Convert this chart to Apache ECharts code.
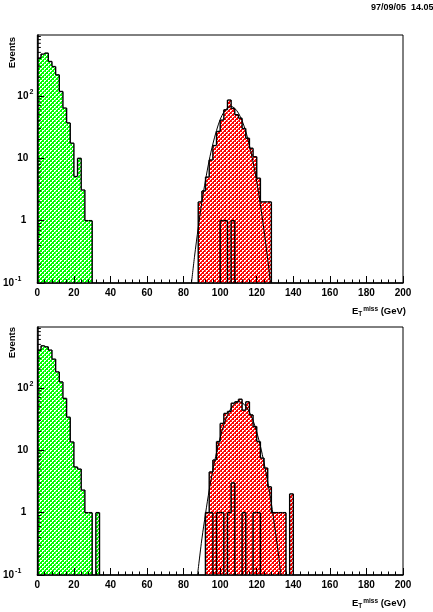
<!DOCTYPE html>
<html><head><meta charset="utf-8">
<script src="https://cdn.jsdelivr.net/npm/echarts@6/dist/echarts.min.js"></script>
<style>html,body{margin:0;padding:0;background:#fff}#c{width:433px;height:612px}</style>
</head><body><div id="c"></div>
<script>
// ---- data ----
const binWidth = 2;
const xTicks = [0, 20, 40, 60, 80, 100, 120, 140, 160, 180, 200];
const yMinorTicks = [0.2,0.3,0.4,0.5,0.6,0.7,0.8,0.9, 2,3,4,5,6,7,8,9, 20,30,40,50,60,70,80,90, 200,300,400,500,600,700,800,900];

const topGreenStart = 0;
const topGreen = [405, 469, 487, 357, 296, 218, 118, 64, 37, 17.5, 5.1, 10, 3.1, 1, 1];
const topRedStart = 88;
const topRed = [2, 3, 5, 9.4, 16, 27, 41, 60, 86, 63, 50, 44, 30, 21, 14.5, 10.6, 4.8, 2, 2, 2];
const topBkgStart = 100;
const topBkg = [1, 1, 0, 1];
const topFitX = [84.3, 86, 88, 90, 92, 94, 96, 98, 100, 102, 104, 106, 108, 110, 112, 114, 116, 118, 120, 122, 124, 126, 127.5];
const topFitY = [0.1, 0.27, 0.77, 2.0, 4.5, 9.3, 17, 28, 42, 55, 64, 68, 63, 53, 40, 27, 16, 8.7, 4.2, 1.8, 0.69, 0.24, 0.1];

const botGreenStart = 0;
const botGreen = [405, 474, 457, 405, 290, 181, 125, 68, 34, 13.6, 5.4, 5, 2.3, 1, 1, 0, 1];
const botRedStart = 92;
const botRed = [1, 4.5, 7, 13.8, 27, 39, 42, 57, 60, 66, 44, 60, 37, 24, 13.8, 7.5, 5.2, 2.6, 1, 1, 1, 1, 0, 2];
const botBkgStart = 92;
const botBkg = [1, 1, 0, 1, 1, 0, 1, 3, 0, 0, 1, 0, 0, 1, 1];
const botFitX = [87.6, 90, 92, 94, 96, 98, 100, 102, 104, 106, 108, 110, 112, 114, 116, 118, 120, 122, 124, 126, 128, 130, 132, 133.2];
const botFitY = [0.1, 0.38, 0.97, 2.3, 4.8, 9.2, 16, 25.5, 36.5, 47.6, 56, 60, 58, 51, 41, 30, 19.6, 11.7, 6.3, 3.1, 1.4, 0.55, 0.2, 0.1];

const FLOOR = 0.1;
const YMAX = 950;
const FONT = '"Liberation Sans", Arial, Helvetica, sans-serif';

function hatch(color) {
  const c = document.createElement('canvas');
  c.width = 4; c.height = 4;
  const g = c.getContext('2d');
  g.fillStyle = color; g.fillRect(0, 0, 4, 4);
  g.fillStyle = '#ffffff';
  g.fillRect(0, 0, 2, 1); g.fillRect(0, 1, 1, 1);
  g.fillRect(2, 2, 2, 1); g.fillRect(2, 3, 1, 1);
  return { type: 'pattern', image: c, repeat: 'repeat' };
}
const greenFill = hatch('#00ff00');
const redFill = hatch('#ff0000');

function histSeries(idx, start, vals, fill, z) {
  const data = vals.map((v, i) => [start + i * binWidth, start + (i + 1) * binWidth, v, i === 0 ? 0 : vals[i - 1], i === vals.length - 1 ? 1 : 0]);
  return {
    type: 'custom', xAxisIndex: idx, yAxisIndex: idx, z: z, clip: true,
    encode: { x: 0, y: 2 }, silent: true, data: data,
    renderItem(params, api) {
      const x0 = api.value(0), x1 = api.value(1), v = api.value(2), p = api.value(3), last = api.value(4);
      const lv = v > 0 ? v : FLOOR, lp = p > 0 ? p : FLOOR;
      const a = api.coord([x0, lv]), b = api.coord([x1, FLOOR]), pl = api.coord([x0, lp]);
      const ls = { stroke: '#000', lineWidth: 1.4 };
      const ch = [];
      if (v > 0) ch.push({ type: 'rect', shape: { x: a[0], y: a[1], width: b[0] - a[0], height: b[1] - a[1] }, style: { fill: fill } });
      ch.push({ type: 'line', shape: { x1: a[0], y1: pl[1], x2: a[0], y2: a[1] }, style: ls });
      if (v > 0) ch.push({ type: 'line', shape: { x1: a[0], y1: a[1], x2: b[0], y2: a[1] }, style: ls });
      if (last) ch.push({ type: 'line', shape: { x1: b[0], y1: a[1], x2: b[0], y2: b[1] }, style: ls });
      return { type: 'group', children: ch };
    }
  };
}
function fitSeries(idx, xs, ys) {
  return {
    type: 'line', xAxisIndex: idx, yAxisIndex: idx, z: 6, smooth: 0.3, showSymbol: false, silent: true,
    clip: true, lineStyle: { color: '#000', width: 1 }, data: xs.map((x, i) => [x, ys[i]])
  };
}
function minorSeries(idx) {
  return {
    type: 'custom', xAxisIndex: idx, yAxisIndex: idx, z: 8, silent: true, encode: { x: 0, y: 1 },
    data: yMinorTicks.map(v => [0, v]),
    renderItem(params, api) {
      const pt = api.coord([api.value(0), api.value(1)]);
      return { type: 'line', shape: { x1: pt[0], y1: pt[1], x2: pt[0] + 3.5, y2: pt[1] }, style: { stroke: '#000', lineWidth: 1 } };
    }
  };
}

const yRich = {
  b: { fontFamily: FONT, fontWeight: 'bold', fontSize: 10, color: '#000' },
  s: { fontFamily: FONT, fontWeight: 'bold', fontSize: 7, color: '#000', padding: [0, 0, 7, 1] },
  sm: { fontFamily: FONT, fontWeight: 'bold', fontSize: 7, color: '#000', padding: [0, 12, 7, 1] },
  p1: { fontFamily: FONT, fontWeight: 'bold', fontSize: 10, color: '#000', padding: [0, 7, 0, 0] },
  p10: { fontFamily: FONT, fontWeight: 'bold', fontSize: 10, color: '#000', padding: [0, 5, 0, 0] }
};
function yFmt(v) {
  const k = Math.log10(v);
  if (Math.abs(k - Math.round(k)) > 1e-6) return '';
  const r = Math.round(k);
  if (r === -1) return '{b|10}{sm|-1}';
  if (r === 0) return '{p1|1}';
  if (r === 1) return '{p10|10}';
  if (r === 2) return '{b|10}{s|2}';
  return '';
}
function xAxis(idx) {
  return {
    type: 'value', gridIndex: idx, min: 0, max: 200, interval: 20, z: 10,
    axisLine: { show: true, lineStyle: { color: '#000', width: 1.5 } },
    axisTick: { show: true, inside: true, length: 7, lineStyle: { color: '#000', width: 1 } },
    minorTick: { show: true, splitNumber: 5, length: 3.5, lineStyle: { color: '#000', width: 1 } },
    splitLine: { show: false },
    axisLabel: { margin: 5, fontFamily: FONT, fontWeight: 'bold', fontSize: 10, color: '#000',
      formatter: v => xTicks.indexOf(v) >= 0 ? String(v) : '' }
  };
}
function yAxis(idx) {
  return {
    type: 'log', logBase: 10, gridIndex: idx, min: FLOOR, max: YMAX, z: 10,
    axisLine: { show: true, lineStyle: { color: '#000', width: 1.5 } },
    axisTick: { show: true, inside: true, length: 7, lineStyle: { color: '#000', width: 1 } },
    splitLine: { show: false },
    axisLabel: { margin: 4, formatter: yFmt, rich: yRich, showMaxLabel: false }
  };
}
const titleRich = {
  b: { fontFamily: FONT, fontWeight: 'bold', fontSize: 9.5, color: '#000' },
  sub: { fontFamily: FONT, fontWeight: 'bold', fontSize: 6.5, color: '#000', padding: [5, 0, 0, 0] },
  sup: { fontFamily: FONT, fontWeight: 'bold', fontSize: 6.5, color: '#000', padding: [0, 0, 4, 1] }
};
function xTitle(y) {
  return { type: 'text', right: 27, top: y, z: 20,
    style: { text: '{b|E}{sub|T}{sup|miss}{b| (GeV)}', rich: titleRich } };
}
function eventsLabel(y) {
  return { type: 'text', x: 12, y: y, rotation: Math.PI / 2, z: 20,
    style: { text: 'Events', fontFamily: FONT, fontWeight: 'bold', fontSize: 9.5, fill: '#000', align: 'right', verticalAlign: 'middle' } };
}

const chart = echarts.init(document.getElementById('c'), null, { renderer: 'canvas' });
chart.setOption({
  animation: false,
  backgroundColor: '#fff',
  grid: [
    { left: 36, top: 35, width: 367, height: 248, show: true, borderColor: '#000', borderWidth: 1, backgroundColor: 'transparent' },
    { left: 36, top: 327, width: 367, height: 248, show: true, borderColor: '#000', borderWidth: 1, backgroundColor: 'transparent' }
  ],
  xAxis: [xAxis(0), xAxis(1)],
  yAxis: [yAxis(0), yAxis(1)],
  graphic: [
    { type: 'text', left: 371, top: 3, z: 20, style: { text: '97/09/05  14.05', fontFamily: FONT, fontWeight: 'bold', fontSize: 9, fill: '#000' } },
    eventsLabel(37), eventsLabel(327),
    xTitle(306), xTitle(598)
  ],
  series: [
    histSeries(0, topGreenStart, topGreen, greenFill, 2),
    histSeries(0, topRedStart, topRed, redFill, 2),
    histSeries(0, topBkgStart, topBkg, redFill, 3),
    fitSeries(0, topFitX, topFitY),
    minorSeries(0),
    histSeries(1, botGreenStart, botGreen, greenFill, 2),
    histSeries(1, botRedStart, botRed, redFill, 2),
    histSeries(1, botBkgStart, botBkg, redFill, 3),
    fitSeries(1, botFitX, botFitY),
    minorSeries(1)
  ]
});
</script>
</body></html>
